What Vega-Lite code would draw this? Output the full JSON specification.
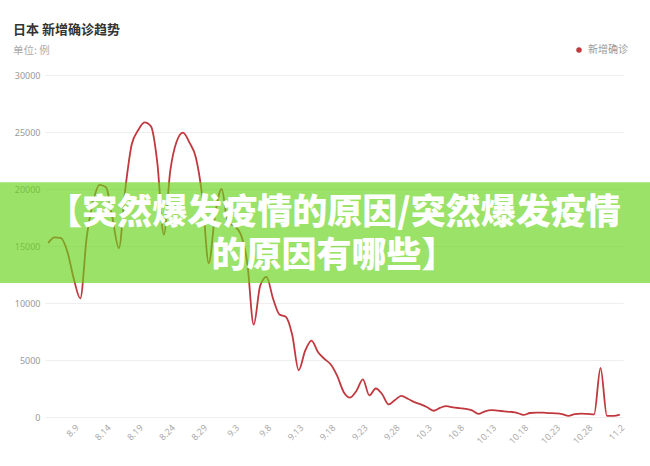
{
  "$schema": "https://vega.github.io/schema/vega-lite/v6.json",
  "width": 578,
  "height": 342,
  "padding": {"left": 0, "top": 23, "right": 0, "bottom": 5},
  "background": "white",
  "title": {
    "text": "日本 新增确诊趋势",
    "subtitle": "单位: 例",
    "anchor": "start",
    "frame": "bounds",
    "dx": 13,
    "font": "Noto Sans CJK SC",
    "fontSize": 13,
    "fontWeight": "bold",
    "color": "#333333",
    "subtitleFont": "Noto Sans CJK SC",
    "subtitleFontSize": 10.5,
    "subtitleColor": "#aaaaaa",
    "subtitlePadding": 9,
    "offset": -11
  },
  "config": {"view": {"stroke": null}},
  "resolve": {"scale": {"x": "independent"}},
  "datasets": {
    "cases": [
      {"date": "8.5", "cases": 15263}, {"date": "8.6", "cases": 15750}, {"date": "8.7", "cases": 15700},
      {"date": "8.8", "cases": 14470}, {"date": "8.9", "cases": 12080}, {"date": "8.10", "cases": 10400},
      {"date": "8.11", "cases": 15800}, {"date": "8.12", "cases": 18890}, {"date": "8.13", "cases": 20360},
      {"date": "8.14", "cases": 20150}, {"date": "8.15", "cases": 17470}, {"date": "8.16", "cases": 14800},
      {"date": "8.17", "cases": 19980}, {"date": "8.18", "cases": 23900}, {"date": "8.19", "cases": 25150},
      {"date": "8.20", "cases": 25850}, {"date": "8.21", "cases": 25490}, {"date": "8.22", "cases": 22250},
      {"date": "8.23", "cases": 16000}, {"date": "8.24", "cases": 21570}, {"date": "8.25", "cases": 24170},
      {"date": "8.26", "cases": 24950}, {"date": "8.27", "cases": 24060}, {"date": "8.28", "cases": 22740},
      {"date": "8.29", "cases": 19290}, {"date": "8.30", "cases": 13500}, {"date": "8.31", "cases": 17800},
      {"date": "9.1", "cases": 20000}, {"date": "9.2", "cases": 17000}, {"date": "9.3", "cases": 16750},
      {"date": "9.4", "cases": 16000}, {"date": "9.5", "cases": 13500}, {"date": "9.6", "cases": 8100},
      {"date": "9.7", "cases": 11500}, {"date": "9.8", "cases": 12300}, {"date": "9.9", "cases": 10400},
      {"date": "9.10", "cases": 9000}, {"date": "9.11", "cases": 8800}, {"date": "9.12", "cases": 7200},
      {"date": "9.13", "cases": 4100}, {"date": "9.14", "cases": 5800}, {"date": "9.15", "cases": 6700},
      {"date": "9.16", "cases": 5700}, {"date": "9.17", "cases": 5100}, {"date": "9.18", "cases": 4600},
      {"date": "9.19", "cases": 3600}, {"date": "9.20", "cases": 2200}, {"date": "9.21", "cases": 1700},
      {"date": "9.22", "cases": 2300}, {"date": "9.23", "cases": 3300}, {"date": "9.24", "cases": 1900},
      {"date": "9.25", "cases": 2500}, {"date": "9.26", "cases": 2000}, {"date": "9.27", "cases": 1100},
      {"date": "9.28", "cases": 1500}, {"date": "9.29", "cases": 1850}, {"date": "9.30", "cases": 1600},
      {"date": "10.1", "cases": 1300}, {"date": "10.2", "cases": 1100}, {"date": "10.3", "cases": 850},
      {"date": "10.4", "cases": 550}, {"date": "10.5", "cases": 800}, {"date": "10.6", "cases": 950},
      {"date": "10.7", "cases": 850}, {"date": "10.8", "cases": 780}, {"date": "10.9", "cases": 720},
      {"date": "10.10", "cases": 580}, {"date": "10.11", "cases": 270}, {"date": "10.12", "cases": 500},
      {"date": "10.13", "cases": 610}, {"date": "10.14", "cases": 560}, {"date": "10.15", "cases": 500},
      {"date": "10.16", "cases": 450}, {"date": "10.17", "cases": 370}, {"date": "10.18", "cases": 180},
      {"date": "10.19", "cases": 350}, {"date": "10.20", "cases": 390}, {"date": "10.21", "cases": 380},
      {"date": "10.22", "cases": 340}, {"date": "10.23", "cases": 320}, {"date": "10.24", "cases": 260},
      {"date": "10.25", "cases": 100}, {"date": "10.26", "cases": 250}, {"date": "10.27", "cases": 300},
      {"date": "10.28", "cases": 270}, {"date": "10.29", "cases": 230}, {"date": "10.30", "cases": 4300},
      {"date": "10.31", "cases": 100}, {"date": "11.1", "cases": 90}, {"date": "11.2", "cases": 200}
    ],
    "banner": [
      {"caption": "【突然爆发疫情的原因/突然爆发疫情\n的原因有哪些】"}
    ]
  },
  "layer": [
    {
      "data": {"name": "cases"},
      "mark": {"type": "line", "interpolate": "monotone", "strokeWidth": 1.8},
      "encoding": {
        "x": {
          "field": "date",
          "type": "ordinal",
          "sort": null,
          "scale": {"type": "point", "padding": 0.5},
          "axis": {
            "title": null,
            "values": ["8.9", "8.14", "8.19", "8.24", "8.29", "9.3", "9.8", "9.13", "9.18", "9.23", "9.28", "10.3", "10.8", "10.13", "10.18", "10.23", "10.28", "11.2"],
            "labelAngle": -45,
            "labelFont": "Noto Sans",
            "labelFontSize": 9,
            "labelColor": "#aaaaaa",
            "labelPadding": 6,
            "ticks": false,
            "domain": false,
            "grid": false
          }
        },
        "y": {
          "field": "cases",
          "type": "quantitative",
          "scale": {"domain": [0, 30000]},
          "axis": {
            "title": null,
            "values": [0, 5000, 10000, 15000, 20000, 25000, 30000],
            "format": "d",
            "labelFont": "Noto Sans",
            "labelFontSize": 9,
            "labelColor": "#999999",
            "labelPadding": 5,
            "ticks": false,
            "domain": false,
            "gridColor": "#eeeeee"
          }
        },
        "color": {
          "datum": "新增确诊",
          "type": "nominal",
          "scale": {"range": ["#c0393f"]},
          "legend": {
            "title": null,
            "orient": "none",
            "legendX": 529,
            "legendY": -30,
            "symbolType": "circle",
            "symbolSize": 30,
            "symbolFillColor": "#c0393f",
            "symbolStrokeWidth": 0,
            "labelFont": "Noto Sans CJK SC",
            "labelFontSize": 10,
            "labelColor": "#999999",
            "labelOffset": 4
          }
        }
      }
    },
    {
      "data": {"name": "banner"},
      "mark": {"type": "rect", "fill": "#65d218", "opacity": 0.65, "clip": false},
      "encoding": {
        "x": {"datum": 0, "type": "quantitative", "scale": {"domain": [0.06923, 0.95846], "nice": false, "zero": false}, "axis": null},
        "x2": {"datum": 1},
        "y": {"datum": 20600},
        "y2": {"datum": 11750}
      }
    },
    {
      "data": {"name": "banner"},
      "mark": {
        "type": "text",
        "font": "Noto Sans CJK SC",
        "fontSize": 35,
        "fontWeight": 900,
        "color": "#ffffff",
        "align": "center",
        "baseline": "middle",
        "lineBreak": "\n",
        "lineHeight": 43
      },
      "encoding": {
        "y": {"datum": 17900},
        "text": {"field": "caption"}
      }
    }
  ]
}
